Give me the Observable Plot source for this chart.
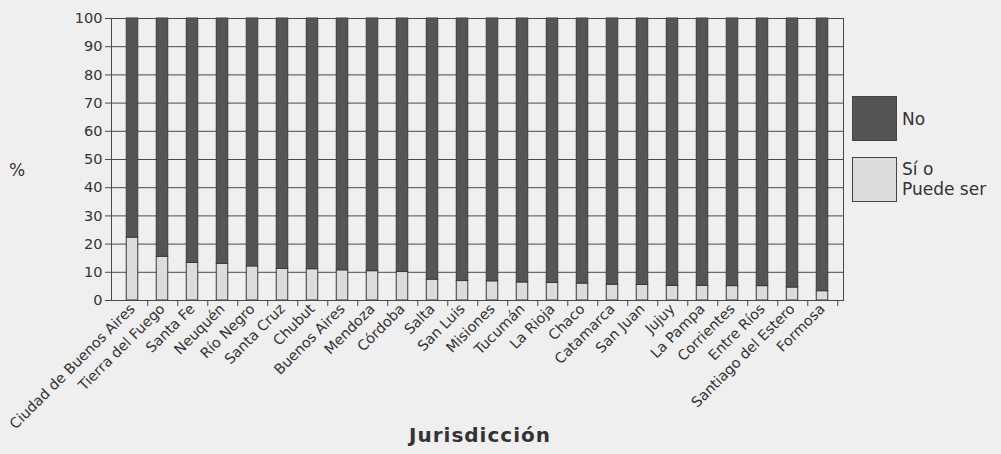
<!DOCTYPE html>
<html>
<head>
<meta charset="utf-8">
<script src="https://cdn.jsdelivr.net/npm/d3@7"></script>
<script src="https://cdn.jsdelivr.net/npm/@observablehq/plot@0.6"></script>
<style>
  html, body { margin: 0; padding: 0; background: #efefef; }
  #wrap { position: relative; width: 1001px; height: 454px; font-family: "DejaVu Sans", "Liberation Sans", Arial, sans-serif; color: #333; }
  #chart svg { position: absolute; left: 0; top: 0; }
  .lbl { position: absolute; color: #333; white-space: nowrap; }
  .legend-item { position: absolute; left: 852px; display: flex; align-items: flex-start; }
  .swatch { width: 45px; border: 1px solid #444; box-sizing: border-box; }
  .legend-text { margin-left: 5px; font-size: 17px; line-height: 20px; color: #333; }
</style>
</head>
<body>
<div id="wrap">
  <div id="chart"></div>
</div>
<script>
// Jurisdicciones (orden del gráfico)
const jurisdicciones = [
  "Ciudad de Buenos Aires", "Tierra del Fuego", "Santa Fe", "Neuquén", "Río Negro",
  "Santa Cruz", "Chubut", "Buenos Aires", "Mendoza", "Córdoba", "Salta", "San Luis",
  "Misiones", "Tucumán", "La Rioja", "Chaco", "Catamarca", "San Juan", "Jujuy",
  "La Pampa", "Corrientes", "Entre Ríos", "Santiago del Estero", "Formosa"
];
// % "Sí o Puede ser"
const siPuedeSer = [
  22.3, 15.5, 13.3, 13.0, 12.1, 11.2, 11.1, 10.7, 10.4, 10.1, 7.4, 6.9,
  6.8, 6.4, 6.2, 6.0, 5.6, 5.5, 5.2, 5.2, 5.1, 5.1, 4.6, 3.3
];
const series = ["Sí o Puede ser", "No"];
const seriesColors = ["#dcdcdc", "#555555"];
const legendOrder = ["No", "Sí o Puede ser"];
const yTicks = [0, 10, 20, 30, 40, 50, 60, 70, 80, 90, 100];

const rows = [];
jurisdicciones.forEach((j, i) => {
  rows.push({jur: j, serie: series[0], valor: siPuedeSer[i]});
  rows.push({jur: j, serie: series[1], valor: 100 - siPuedeSer[i]});
});

const W = 1001, H = 454;
const mL = 111, mR = 158, mT = 18, mB = 154;
const band = (W - mL - mR) / jurisdicciones.length;
const barW = 12;
const inset = (band - barW) / 2;
const tickFont = "'DejaVu Sans', 'Liberation Sans', Arial, sans-serif";

const chart = Plot.plot({
  width: W,
  height: H,
  marginLeft: mL,
  marginRight: mR,
  marginTop: mT,
  marginBottom: mB,
  style: {background: "transparent", fontFamily: tickFont, color: "#333"},
  x: {domain: jurisdicciones, padding: 0, label: null},
  y: {domain: [0, 100], label: null},
  color: {domain: series, range: seriesColors},
  marks: [
    Plot.gridY(yTicks, {stroke: "#4a4a4a", strokeOpacity: 1, strokeWidth: 1}),
    Plot.barY(rows, Plot.stackY({order: series}, {
      x: "jur", y: "valor", fill: "serie",
      stroke: "#3a3a3a", strokeWidth: 1,
      insetLeft: inset, insetRight: inset
    })),
    Plot.frame({stroke: "#4a4a4a", strokeWidth: 1}),
    Plot.axisY(yTicks, {tickSize: 6, tickPadding: 3, fontSize: 14.5, stroke: "#4a4a4a", label: null, fill: "#333"}),
    Plot.axisX({tickSize: 6, text: null, dx: band / 2, stroke: "#4a4a4a", label: null}),
    Plot.axisX({tickSize: 0, tickPadding: 6, tickRotate: -45, fontSize: 14.3, label: null, fill: "#333"})
  ]
});
document.getElementById("chart").appendChild(chart);

const wrap = document.getElementById("wrap");
// y label
const yl = document.createElement("div");
yl.className = "lbl";
yl.textContent = "%";
yl.style.cssText += "left:9px;top:160px;font-size:17px;";
wrap.appendChild(yl);
// x label
const xl = document.createElement("div");
xl.className = "lbl";
xl.textContent = "Jurisdicción";
xl.style.cssText += "left:380px;width:200px;text-align:center;top:423px;font-size:20px;font-weight:bold;letter-spacing:1px;";
wrap.appendChild(xl);

// legend
const legTops = [96, 157];
const legHeights = [45, 45];
legendOrder.forEach((s, k) => {
  const item = document.createElement("div");
  item.className = "legend-item";
  item.style.top = legTops[k] + "px";
  const sw = document.createElement("div");
  sw.className = "swatch";
  sw.style.height = legHeights[k] + "px";
  sw.style.background = seriesColors[series.indexOf(s)];
  const tx = document.createElement("div");
  tx.className = "legend-text";
  if (s === "No") {
    tx.style.marginTop = "13px";
    tx.textContent = s;
  } else {
    tx.style.marginTop = "2px";
    tx.innerHTML = "Sí o<br>Puede ser";
  }
  item.appendChild(sw);
  item.appendChild(tx);
  wrap.appendChild(item);
});
</script>
</body>
</html>
